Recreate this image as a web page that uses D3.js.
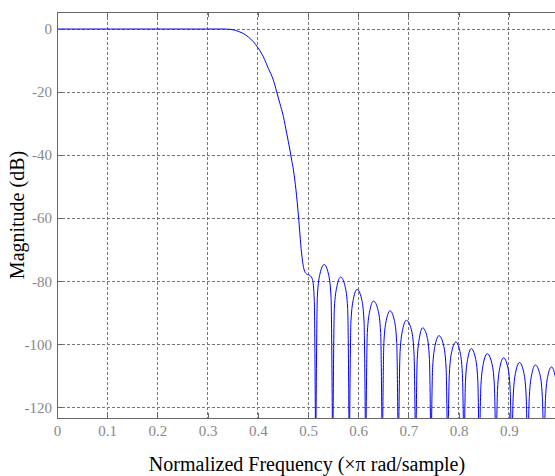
<!DOCTYPE html>
<html>
<head>
<meta charset="utf-8">
<script src="https://cdn.jsdelivr.net/npm/d3@7"></script>
<style>
  body { margin: 0; background: #fff; }
  svg { display: block; }
</style>
</head>
<body>
<div id="chart"></div>
<script>
// passband + transition band as [freq, dB]
const transition = [
  [0, 0], [0.30, 0], [0.335, 0], [0.3446, -0.1], [0.355, -0.4], [0.362, -0.8],
  [0.371, -1.4], [0.381, -2.5], [0.391, -4.0], [0.401, -6.1], [0.411, -8.8],
  [0.421, -12.5], [0.431, -16.2], [0.4376, -19.9], [0.444, -23.6], [0.451, -27.8],
  [0.4576, -33.1], [0.464, -38.4], [0.4675, -41.6], [0.471, -44.7], [0.476, -51],
  [0.481, -59.3], [0.487, -70.8], [0.492, -76.2], [0.497, -77.7], [0.504, -78.2],
  [0.509, -79.5], [0.5125, -86], [0.5153, -140]
];

// stopband sidelobes, one array per lobe (nulls drop below the axis)
const stopband = [
  [[0.5153, -140], [0.5187, -84.7], [0.5238, -77.7], [0.5322, -74.7], [0.5407, -77.7], [0.5458, -84.7], [0.5492, -140]],
  [[0.5492, -140], [0.5525, -88.7], [0.5575, -81.7], [0.5650, -78.7], [0.5740, -81.7], [0.5790, -88.7], [0.5823, -140]],
  [[0.5823, -140], [0.5856, -92.6], [0.5905, -85.6], [0.5978, -82.6], [0.6067, -85.6], [0.6116, -92.6], [0.6149, -140]],
  [[0.6149, -140], [0.6182, -96.3], [0.6232, -89.3], [0.6305, -86.3], [0.6397, -89.3], [0.6447, -96.3], [0.6480, -140]],
  [[0.6480, -140], [0.6512, -99.4], [0.6560, -92.4], [0.6635, -89.4], [0.6719, -92.4], [0.6767, -99.4], [0.6799, -140]],
  [[0.6799, -140], [0.6834, -102.4], [0.6885, -95.4], [0.6960, -92.4], [0.7059, -95.4], [0.7110, -102.4], [0.7145, -140]],
  [[0.7145, -140], [0.7176, -104.8], [0.7221, -97.8], [0.7285, -94.8], [0.7374, -97.8], [0.7419, -104.8], [0.7450, -140]],
  [[0.7450, -140], [0.7483, -107.3], [0.7533, -100.3], [0.7610, -97.3], [0.7700, -100.3], [0.7750, -107.3], [0.7783, -140]],
  [[0.7783, -140], [0.7816, -109.3], [0.7864, -102.3], [0.7946, -99.3], [0.8027, -102.3], [0.8075, -109.3], [0.8108, -140]],
  [[0.8108, -140], [0.8138, -111.4], [0.8184, -104.4], [0.8252, -101.4], [0.8336, -104.4], [0.8382, -111.4], [0.8412, -140]],
  [[0.8412, -140], [0.8445, -113.0], [0.8495, -106.0], [0.8570, -103.0], [0.8662, -106.0], [0.8712, -113.0], [0.8745, -140]],
  [[0.8745, -140], [0.8776, -114.3], [0.8823, -107.3], [0.8895, -104.3], [0.8980, -107.3], [0.9027, -114.3], [0.9058, -140]],
  [[0.9058, -140], [0.9090, -115.8], [0.9138, -108.8], [0.9213, -105.8], [0.9296, -108.8], [0.9344, -115.8], [0.9376, -140]],
  [[0.9376, -140], [0.9409, -116.6], [0.9457, -109.6], [0.9530, -106.6], [0.9620, -109.6], [0.9668, -116.6], [0.9701, -140]],
  [[0.9701, -140], [0.9731, -117.2], [0.9776, -110.2], [0.9850, -107.2], [0.9925, -110.2], [0.9970, -117.2], [1.0, -140]]
];

const xTicks = [0, 0.1, 0.2, 0.3, 0.4, 0.5, 0.6, 0.7, 0.8, 0.9];
const yTicks = [0, -20, -40, -60, -80, -100, -120];

const W = 555, H = 476;
const margin = { top: 12, right: -4, bottom: 58, left: 57 };
const width = W - margin.left - margin.right;   // runs past the window edge
const height = H - margin.top - margin.bottom;

const svg = d3.select("#chart")
  .append("svg")
  .attr("width", W)
  .attr("height", H)
  .style("font-family", "'Liberation Serif', 'Times New Roman', serif");

const g = svg.append("g")
  .attr("transform", `translate(${margin.left},${margin.top})`);

const x = d3.scaleLinear().domain([0, 1]).range([0, width]);
const y = d3.scaleLinear().domain([-123.4, 5.4]).range([height, 0]);

g.append("defs").append("clipPath").attr("id", "plot")
  .append("rect").attr("width", width).attr("height", height);

// grid
g.append("g")
  .selectAll("line")
  .data(xTicks.filter(d => d > 0))
  .enter().append("line")
  .attr("x1", d => x(d)).attr("x2", d => x(d))
  .attr("y1", 0).attr("y2", height)
  .attr("stroke", "#777").attr("stroke-width", 1)
  .attr("stroke-dasharray", "3,2")
  .attr("shape-rendering", "crispEdges");

g.append("g")
  .selectAll("line")
  .data(yTicks)
  .enter().append("line")
  .attr("x1", 0).attr("x2", width)
  .attr("y1", d => y(d)).attr("y2", d => y(d))
  .attr("stroke", "#777").attr("stroke-width", 1)
  .attr("stroke-dasharray", "3,2")
  .attr("shape-rendering", "crispEdges");

// response curve
const line = d3.line()
  .x(d => x(d[0]))
  .y(d => y(d[1]))
  .curve(d3.curveMonotoneX);

const curves = g.append("g").attr("clip-path", "url(#plot)");
curves.append("path")
  .datum(transition)
  .attr("fill", "none")
  .attr("stroke", "#0000ff")
  .attr("stroke-width", 1)
  .attr("d", line);

curves.selectAll(".lobe")
  .data(stopband)
  .enter().append("path")
  .attr("class", "lobe")
  .attr("fill", "none")
  .attr("stroke", "#0000ff")
  .attr("stroke-width", 1)
  .attr("d", line);

// axes, MATLAB style: ticks pointing inwards
const axisColor = "#666";
const labelColor = "#888";

const xAxis = g.append("g")
  .attr("transform", `translate(0,${height})`)
  .call(d3.axisBottom(x).tickValues(xTicks).tickSizeInner(-5).tickSizeOuter(0).tickPadding(7)
    .tickFormat(d => d === 0 ? "0" : d3.format(".1f")(d)));

const xTop = g.append("g")
  .call(d3.axisTop(x).tickValues(xTicks).tickSizeInner(-5).tickSizeOuter(0).tickFormat(""));

const yAxis = g.append("g")
  .call(d3.axisLeft(y).tickValues(yTicks).tickSizeInner(-5).tickSizeOuter(0).tickPadding(5)
    .tickFormat(d => String(d)));

[xAxis, xTop, yAxis].forEach(a => {
  a.select(".domain").attr("stroke", axisColor).attr("shape-rendering", "crispEdges");
  a.selectAll(".tick line").attr("stroke", axisColor).attr("shape-rendering", "crispEdges");
  a.selectAll("text")
    .attr("fill", labelColor)
    .style("font-family", "'Liberation Serif', 'Times New Roman', serif")
    .style("font-size", "15px");
});

// X-axis label
svg.append("text")
  .attr("x", 307)
  .attr("y", 471)
  .style("text-anchor", "middle")
  .style("font-size", "20px")
  .attr("fill", "#000")
  .text("Normalized Frequency (\u00d7\u03c0 rad/sample)");

// Y-axis label
svg.append("text")
  .attr("transform", "rotate(-90)")
  .attr("x", -(margin.top + height / 2))
  .attr("y", 24)
  .style("text-anchor", "middle")
  .style("font-size", "20px")
  .attr("fill", "#000")
  .text("Magnitude (dB)");
</script>
</body>
</html>
